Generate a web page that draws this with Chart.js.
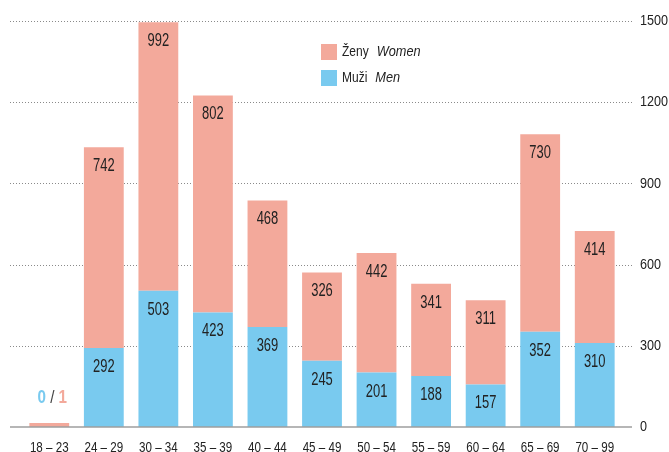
<!DOCTYPE html>
<html>
<head>
<meta charset="utf-8">
<script src="https://cdn.jsdelivr.net/npm/chart.js@4"></script>
<style>
  html, body { margin: 0; padding: 0; background: #fff; }
  canvas { display: block; }
</style>
</head>
<body>
<canvas id="chart" width="669" height="452"></canvas>
<script>
// age groups and counts
const categories = ['18 – 23', '24 – 29', '30 – 34', '35 – 39', '40 – 44', '45 – 49', '50 – 54', '55 – 59', '60 – 64', '65 – 69', '70 – 99'];
const men = [0, 292, 503, 423, 369, 245, 201, 188, 157, 352, 310];
const women = [1, 742, 992, 802, 468, 326, 442, 341, 311, 730, 414];
const yTicks = [0, 300, 600, 900, 1200, 1500];

const blue = '#79caef';
const pink = '#f3a99b';
const textColor = '#222';
const fontFamily = "'Liberation Sans', Arial, sans-serif";

// no narrow font installed, so squeeze the text horizontally
function narrowText(ctx, text, x, y, font, color, align, sx) {
  ctx.save();
  ctx.font = font;
  ctx.fillStyle = color;
  ctx.textAlign = align;
  ctx.textBaseline = 'middle';
  ctx.translate(x, y);
  ctx.scale(sx, 1);
  ctx.fillText(text, 0, 0);
  ctx.restore();
}
function narrowWidth(ctx, text, font, sx) {
  ctx.save();
  ctx.font = font;
  const w = ctx.measureText(text).width * sx;
  ctx.restore();
  return w;
}

// dotted grid + solid baseline, tick labels
const gridPlugin = {
  id: 'grid',
  beforeDatasetsDraw(chart) {
    const { ctx, chartArea, scales } = chart;
    ctx.save();
    ctx.strokeStyle = '#8a8a8a';
    ctx.lineWidth = 1;
    ctx.setLineDash([1, 2]);
    yTicks.forEach(v => {
      if (v === 0) return;
      const y = Math.round(scales.y.getPixelForValue(v)) + 0.5;
      ctx.beginPath();
      ctx.moveTo(10, y);
      ctx.lineTo(chartArea.right + 10, y);
      ctx.stroke();
    });
    ctx.restore();
  },
  afterDatasetsDraw(chart) {
    const { ctx, chartArea, scales } = chart;
    const y0 = scales.y.getPixelForValue(0);
    ctx.save();
    ctx.strokeStyle = '#9e9e9e';
    ctx.lineWidth = 1.5;
    ctx.beginPath();
    ctx.moveTo(10, y0);
    ctx.lineTo(chartArea.right + 10, y0);
    ctx.stroke();
    ctx.restore();

    yTicks.forEach(v => {
      narrowText(ctx, String(v), chartArea.right + 18, scales.y.getPixelForValue(v),
        '15px ' + fontFamily, textColor, 'left', 0.84);
    });
    categories.forEach((c, i) => {
      narrowText(ctx, c, scales.x.getPixelForValue(i), chartArea.bottom + 21,
        '14.5px ' + fontFamily, textColor, 'center', 0.8);
    });
  }
};

// value labels inside the bars
const labelPlugin = {
  id: 'valueLabels',
  afterDatasetsDraw(chart) {
    const { ctx } = chart;
    [0, 1].forEach(di => {
      const meta = chart.getDatasetMeta(di);
      const vals = chart.data.datasets[di].data;
      meta.data.forEach((bar, i) => {
        if (i === 0) return;
        narrowText(ctx, String(vals[i]), bar.x, bar.y + 19, '18px ' + fontFamily, textColor, 'center', 0.72);
      });
    });
    // the empty first group gets "0 / 1" above it
    const bar0 = chart.getDatasetMeta(1).data[0];
    const y0 = chart.scales.y.getPixelForValue(0) - 29;
    const bold = 'bold 19px ' + fontFamily;
    const reg = '19px ' + fontFamily;
    const sx = 0.8;
    const a = String(men[0]), b = String(women[0]), sep = ' / ';
    const wa = narrowWidth(ctx, a, bold, sx);
    const ws = narrowWidth(ctx, sep, reg, sx);
    const wb = narrowWidth(ctx, b, bold, sx);
    let x = bar0.x + 3 - (wa + ws + wb) / 2;
    narrowText(ctx, a, x, y0, bold, blue, 'left', sx);
    x += wa;
    narrowText(ctx, sep, x, y0, reg, '#444', 'left', sx);
    x += ws;
    narrowText(ctx, b, x, y0, bold, pink, 'left', sx);
  }
};

// legend with Czech + italic English names
const legendPlugin = {
  id: 'customLegend',
  afterDraw(chart) {
    const { ctx } = chart;
    const items = [
      { color: pink, cz: 'Ženy', en: 'Women' },
      { color: blue, cz: 'Muži', en: 'Men' }
    ];
    items.forEach((it, i) => {
      const top = 44 + i * 26;
      ctx.fillStyle = it.color;
      ctx.fillRect(321, top, 16, 16);
      const f1 = '15px ' + fontFamily;
      const f2 = 'italic 15px ' + fontFamily;
      narrowText(ctx, it.cz, 342, top + 8, f1, textColor, 'left', 0.8);
      const w = narrowWidth(ctx, it.cz, f1, 0.8);
      narrowText(ctx, it.en, 342 + w + 8, top + 8, f2, textColor, 'left', 0.85);
    });
  }
};

new Chart(document.getElementById('chart'), {
  type: 'bar',
  data: {
    labels: categories,
    datasets: [
      { label: 'Muži Men', data: men, backgroundColor: blue, stack: 's' },
      { label: 'Ženy Women', data: women, backgroundColor: pink, stack: 's', minBarLength: 4 }
    ]
  },
  options: {
    responsive: false,
    animation: false,
    barPercentage: 0.73,
    categoryPercentage: 1,
    layout: { padding: { left: 22, top: 21, right: 0, bottom: 0 } },
    plugins: {
      legend: { display: false },
      tooltip: { enabled: false }
    },
    scales: {
      x: {
        stacked: true,
        grid: { display: false, drawTicks: false },
        border: { display: false },
        ticks: { display: false },
        afterFit(axis) { axis.height = 25; }
      },
      y: {
        stacked: true,
        position: 'right',
        min: 0,
        max: 1500,
        grid: { display: false, drawTicks: false },
        border: { display: false },
        ticks: { display: false },
        afterFit(axis) { axis.width = 47; }
      }
    }
  },
  plugins: [gridPlugin, labelPlugin, legendPlugin]
});
</script>
</body>
</html>
